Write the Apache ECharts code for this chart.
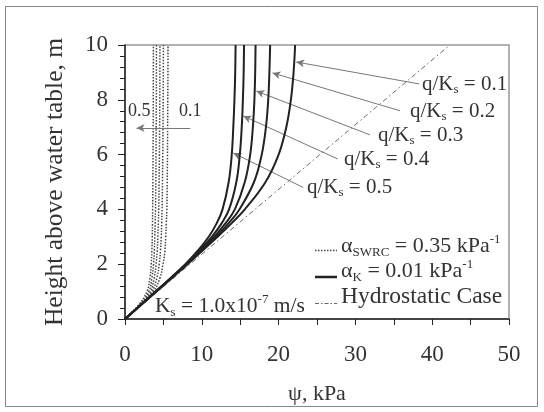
<!DOCTYPE html>
<html>
<head>
<meta charset="utf-8">
<script src="https://cdn.jsdelivr.net/npm/echarts@6/dist/echarts.min.js"></script>
<style>
  html, body { margin: 0; padding: 0; background: #fff; }
  #chart { width: 544px; height: 412px; }
</style>
</head>
<body>
<div id="chart"></div>
<script>
// 高度 (m)
const heights = [0, 0.5, 1, 1.5, 2, 2.5, 3, 3.5, 4, 5, 6, 7, 8, 9, 10]
const qLabels = ['0.1', '0.2', '0.3', '0.4', '0.5']

// alpha_K = 0.01 kPa-1 curves (psi, kPa), q/Ks = 0.1 ... 0.5
const psiK01 = [0, 2.05, 4.1, 6.1, 8.15, 10.1, 12.05, 13.9, 15.6, 18.3, 20.0, 21.0, 21.6, 21.95, 22.15]
const psiK02 = [0, 2.0, 4.05, 6.05, 8.05, 10.0, 11.85, 13.5, 14.9, 16.8, 17.8, 18.35, 18.65, 18.8, 18.9]
const psiK03 = [0, 2.0, 4.0, 6.0, 8.0, 9.85, 11.6, 13.1, 14.3, 15.6, 16.3, 16.65, 16.85, 16.95, 17.0]
const psiK04 = [0, 2.0, 4.0, 6.0, 7.95, 9.7, 11.3, 12.6, 13.55, 14.5, 14.95, 15.2, 15.35, 15.45, 15.5]
const psiK05 = [0, 2.0, 4.0, 5.95, 7.85, 9.5, 10.9, 11.95, 12.7, 13.5, 13.9, 14.1, 14.25, 14.35, 14.4]

// alpha_SWRC = 0.35 kPa-1 curves
const psiS01 = [0, 1.95, 3.7, 4.55, 4.95, 5.2, 5.3, 5.38, 5.45, 5.5, 5.53, 5.55, 5.57, 5.59, 5.6]
const psiS02 = [0, 1.9, 3.5, 4.15, 4.45, 4.62, 4.72, 4.78, 4.83, 4.88, 4.92, 4.95, 4.97, 4.99, 5.0]
const psiS03 = [0, 1.85, 3.3, 3.8, 4.05, 4.2, 4.28, 4.34, 4.39, 4.44, 4.48, 4.51, 4.53, 4.54, 4.55]
const psiS04 = [0, 1.8, 3.1, 3.5, 3.72, 3.82, 3.88, 3.93, 3.97, 4.01, 4.04, 4.06, 4.08, 4.09, 4.1]
const psiS05 = [0, 1.75, 2.85, 3.25, 3.42, 3.5, 3.55, 3.58, 3.6, 3.63, 3.65, 3.67, 3.68, 3.69, 3.7]

// hydrostatic case
const hydroPsi = [0, 42.3]
const hydroH = [0, 10]

const xTicks = [0, 10, 20, 30, 40, 50]
const yTicks = [0, 2, 4, 6, 8, 10]

const F = 'Liberation Serif'
const TXT = '#333'

const pairs = (xs, ys) => xs.map((x, i) => [x, ys[i]])

const makeRich = (size, subSize) => ({
  n: { fontFamily: F, fontSize: size, lineHeight: size + 4, fill: TXT, color: TXT, verticalAlign: 'middle' },
  sub: { fontFamily: F, fontSize: subSize, lineHeight: subSize + 1, fill: TXT, color: TXT, verticalAlign: 'bottom' },
  sup: { fontFamily: F, fontSize: subSize, lineHeight: subSize + 1, fill: TXT, color: TXT, verticalAlign: 'top' }
})

const richText = (x, y, text, size, subSize) => ({
  type: 'text', x: x, y: y, z: 100,
  style: {
    text: text, rich: makeRich(size, subSize || 13),
    fontFamily: F, fontSize: size, fill: TXT, align: 'left', verticalAlign: 'middle'
  }
})

const kSeries = [psiK01, psiK02, psiK03, psiK04, psiK05].map((psi, i) => ({
  name: 'K q/Ks=' + qLabels[i],
  type: 'line',
  data: pairs(psi, heights),
  showSymbol: false,
  smooth: 0.4,
  lineStyle: { color: '#222', width: 2 },
  z: 5
}))

const sSeries = [psiS01, psiS02, psiS03, psiS04, psiS05].map((psi, i) => ({
  name: 'SWRC q/Ks=' + qLabels[i],
  type: 'line',
  data: pairs(psi, heights),
  showSymbol: false,
  smooth: 0.4,
  lineStyle: { color: '#444', width: 1.5, type: [1.5, 1.5] },
  z: 4
}))

// 注释箭头
const arrowLine = (from, to) => [{ coord: from }, { coord: to }]

const annotSeries = {
  name: 'annot',
  type: 'line',
  data: [],
  silent: true,
  markLine: {
    silent: true,
    symbol: ['none', 'arrow'],
    symbolSize: [6, 8],
    label: { show: false },
    lineStyle: { color: '#777', width: 1, type: 'solid' },
    animation: false,
    data: [
      arrowLine([38.3, 8.58], [22.3, 9.38]),
      arrowLine([35.8, 7.6], [19.2, 8.98]),
      arrowLine([31.9, 6.72], [17.1, 8.32]),
      arrowLine([27.7, 5.84], [15.4, 7.41]),
      arrowLine([23.2, 4.8], [14.1, 6.06]),
      arrowLine([8.5, 6.97], [1.5, 6.97])
    ]
  }
}

const chart = echarts.init(document.getElementById('chart'))

const option = {
  animation: false,
  backgroundColor: '#fff',
  grid: {
    left: 125, right: 35, top: 45, bottom: 93,
    show: true, borderColor: '#999', borderWidth: 1.5
  },
  xAxis: {
    type: 'value', min: 0, max: 50, interval: 10,
    name: 'ψ, kPa', nameLocation: 'middle', nameGap: 64,
    nameTextStyle: { fontFamily: F, fontSize: 22, color: TXT },
    axisLine: { show: true, onZero: false, lineStyle: { color: '#222', width: 1.5 } },
    axisTick: { show: true, length: 6, lineStyle: { color: '#222' } },
    minorTick: { show: true, splitNumber: 2, length: 6, lineStyle: { color: '#222' } },
    splitLine: { show: false },
    axisLabel: {
      margin: 24, fontFamily: F, fontSize: 23, color: TXT,
      formatter: v => xTicks.includes(v) ? String(v) : ''
    }
  },
  yAxis: {
    type: 'value', min: 0, max: 10, interval: 2,
    name: 'Height above water table, m', nameLocation: 'middle', nameGap: 57,
    nameTextStyle: { fontFamily: F, fontSize: 25.5, color: TXT },
    axisLine: { show: true, onZero: false, lineStyle: { color: '#222', width: 1.5 } },
    axisTick: { show: true, length: 7, lineStyle: { color: '#222' } },
    minorTick: { show: true, splitNumber: 5, length: 5, lineStyle: { color: '#222' } },
    splitLine: { show: false },
    axisLabel: {
      margin: 17, fontFamily: F, fontSize: 23, color: TXT,
      formatter: v => yTicks.includes(v) ? String(v) : ''
    }
  },
  series: [
    ...sSeries,
    ...kSeries,
    {
      name: 'Hydrostatic Case',
      type: 'line',
      data: pairs(hydroPsi, hydroH),
      showSymbol: false,
      lineStyle: { color: '#666', width: 1, type: [5, 3, 1.5, 3] },
      z: 3
    },
    annotSeries
  ],
  graphic: [
    // outer frame
    { type: 'rect', shape: { x: 5.5, y: 6.5, width: 532, height: 400 }, style: { fill: 'none', stroke: '#888', lineWidth: 1 }, z: -1 },
    richText(422, 84, '{n|q/K}{sub|s}{n| = 0.1}', 21),
    richText(410, 111, '{n|q/K}{sub|s}{n| = 0.2}', 21),
    richText(378, 135, '{n|q/K}{sub|s}{n| = 0.3}', 21),
    richText(344, 159, '{n|q/K}{sub|s}{n| = 0.4}', 21),
    richText(307, 187, '{n|q/K}{sub|s}{n| = 0.5}', 21),
    richText(128, 111, '{n|0.5}', 18),
    richText(179, 111, '{n|0.1}', 18),
    richText(155, 306, '{n|K}{sub|s}{n| = 1.0x10}{sup|-7}{n| m/s}', 21.5),
    // legend
    { type: 'line', shape: { x1: 315, y1: 250.5, x2: 337, y2: 250.5 }, style: { stroke: '#444', lineWidth: 1.5, lineDash: [1.5, 1.5] }, z: 100 },
    { type: 'line', shape: { x1: 315, y1: 277, x2: 337, y2: 277 }, style: { stroke: '#222', lineWidth: 2.5 }, z: 100 },
    { type: 'line', shape: { x1: 315, y1: 303.5, x2: 337, y2: 303.5 }, style: { stroke: '#666', lineWidth: 1, lineDash: [4, 2, 1.5, 2] }, z: 100 },
    richText(341, 246, '{n|α}{sub|SWRC}{n| = 0.35 kPa}{sup|-1}', 22),
    richText(341, 271, '{n|α}{sub|K}{n| = 0.01 kPa}{sup|-1}', 22),
    richText(341, 297, '{n|Hydrostatic Case}', 23.5)
  ]
}

chart.setOption(option)
</script>
</body>
</html>
